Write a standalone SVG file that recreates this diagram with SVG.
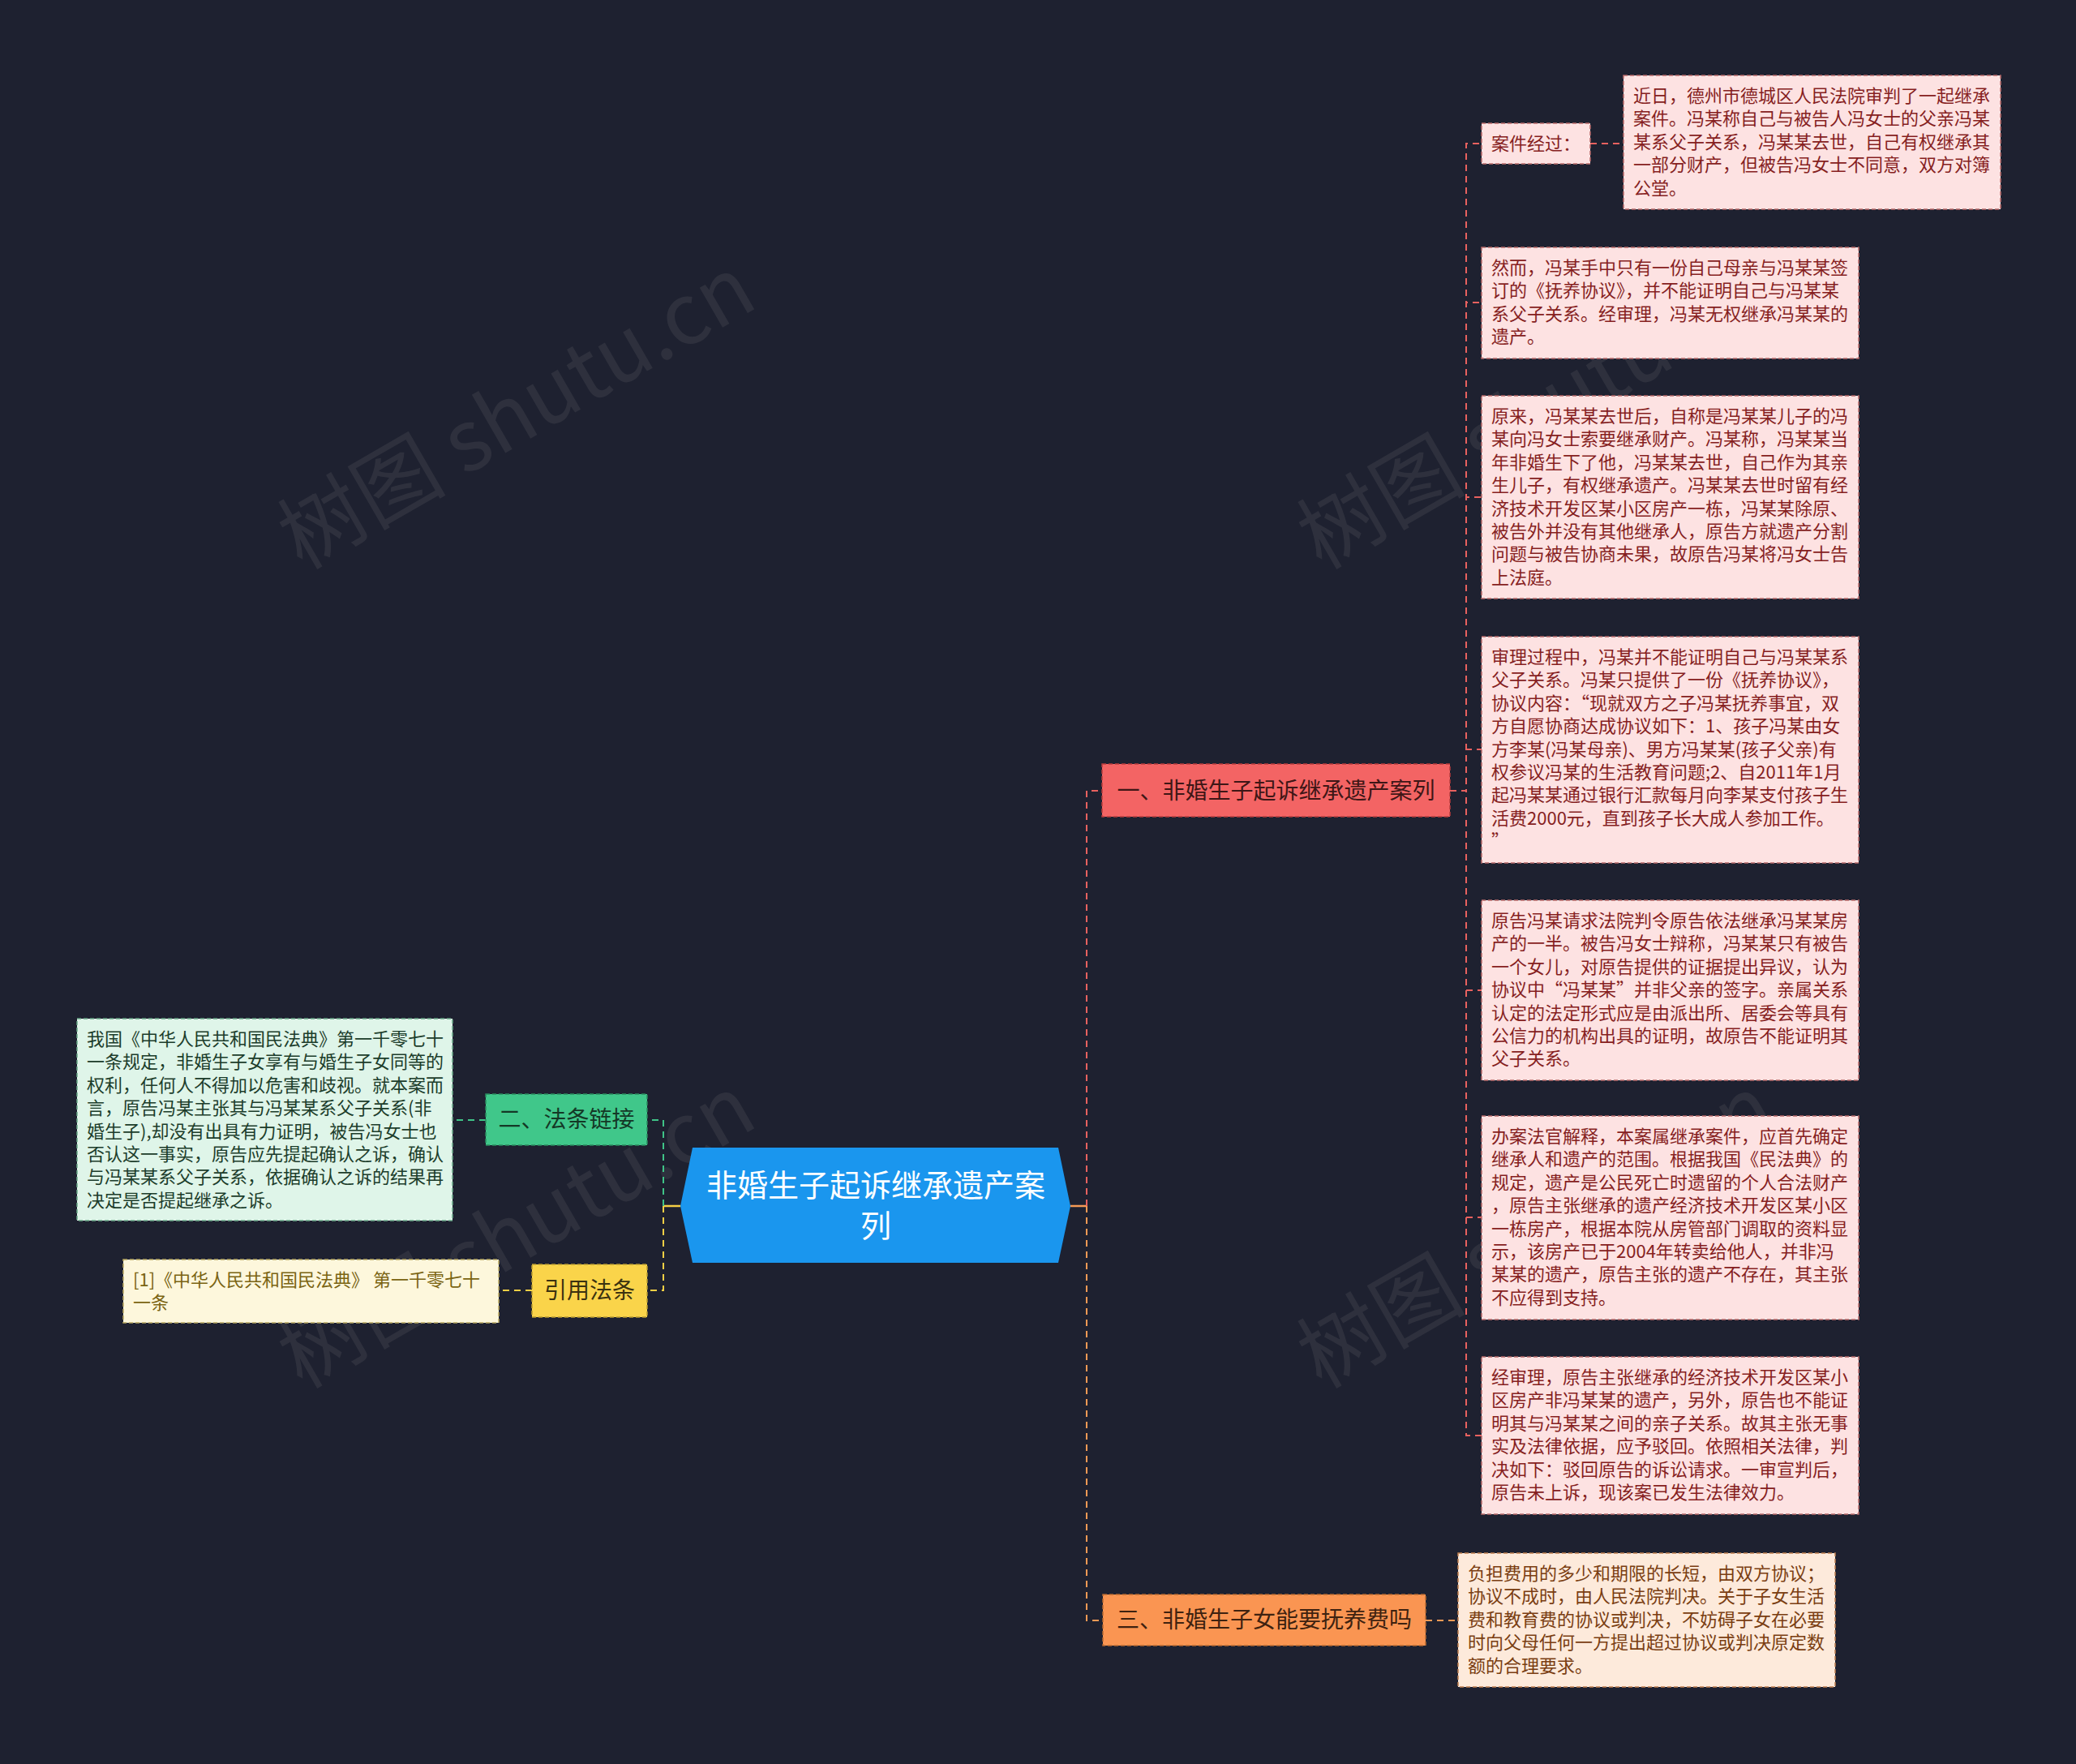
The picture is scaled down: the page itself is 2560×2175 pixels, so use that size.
<svg xmlns="http://www.w3.org/2000/svg" width="2560" height="2175" viewBox="0 0 2560 2175">
<style>
text{font-family:"Noto Sans CJK SC","Noto Sans",sans-serif}
.wm{font-size:104px;fill:#8a8a8a;opacity:0.15}
.leaf{font-size:22px}
.lp rect{fill:#fde2e2;stroke:#b86a6a;stroke-width:1.5;stroke-dasharray:5 3}
.lp text{fill:#861f1f}
.lo rect{fill:#fdeadb;stroke:#c08050;stroke-width:1.5;stroke-dasharray:5 3}
.lo text{fill:#7a3e12}
.lg rect{fill:#dff5e9;stroke:#6aa888;stroke-width:1.5;stroke-dasharray:5 3}
.lg text{fill:#1c3d2b}
.ly rect{fill:#fdf7dc;stroke:#b8a860;stroke-width:1.5;stroke-dasharray:5 3}
.ly text{fill:#7a6412}
.br{font-size:28px;text-anchor:middle}
.c{fill:none;stroke-width:2;stroke-dasharray:8 6}
.cr{stroke:#e8615f}.co{stroke:#f59a55}.cg{stroke:#3fc487}.cy{stroke:#f5cf45}
</style>
<rect width="2560" height="2175" fill="#1e2130"/>
<g id="watermarks">
<text class="wm" transform="translate(655,540) rotate(-30)" text-anchor="middle">树图 shutu.cn</text>
<text class="wm" transform="translate(1912,540) rotate(-30)" text-anchor="middle">树图 shutu.cn</text>
<text class="wm" transform="translate(655,1550) rotate(-30)" text-anchor="middle">树图 shutu.cn</text>
<text class="wm" transform="translate(1912,1550) rotate(-30)" text-anchor="middle">树图 shutu.cn</text>
</g>
<g id="connectors">
<path d="M1320,1487 H1340" fill="none" stroke="#f59a55" stroke-width="2.5"/>
<path d="M839,1487 H818" fill="none" stroke="#f5cf45" stroke-width="2.5"/>
<path class="c cr" d="M1340,1487 V975 H1359"/>
<path class="c co" d="M1340,1487 V1998 H1360"/>
<path class="c cg" d="M818,1487 V1381 H798"/>
<path class="c cy" d="M818,1487 V1591 H798"/>
<path class="c cr" d="M1788,975 H1808 V177 H1827"/>
<path class="c cr" d="M1788,975 H1808 V373 H1827"/>
<path class="c cr" d="M1788,975 H1808 V613 H1827"/>
<path class="c cr" d="M1788,975 H1808 V924 H1827"/>
<path class="c cr" d="M1788,975 H1808 V1221 H1827"/>
<path class="c cr" d="M1788,975 H1808 V1501 H1827"/>
<path class="c cr" d="M1788,975 H1808 V1770 H1827"/>
<path class="c cr" d="M1961,177 H2002"/>
<path class="c co" d="M1758,1998 H1798"/>
<path class="c cg" d="M599,1381 H558"/>
<path class="c cy" d="M656,1591 H615"/>
</g>
<g id="center">
<polygon points="854,1415 1305,1415 1320,1487 1305,1557 854,1557 839,1487" fill="#1a96ee"/>
<text x="1080" y="1475" font-size="38" fill="#ffffff" text-anchor="middle">非婚生子起诉继承遗产案</text>
<text x="1080" y="1525" font-size="38" fill="#ffffff" text-anchor="middle">列</text>
</g>
<g id="branch1">
<rect x="1359" y="942" width="429" height="65" fill="#f36464" stroke="#b83c3c" stroke-width="1.5" stroke-dasharray="5 3"/>
<text class="br" x="1573.5" y="985" fill="#3e1616">一、非婚生子起诉继承遗产案列</text>
</g>
<g id="branch3">
<rect x="1360" y="1966" width="398" height="63" fill="#fa9552" stroke="#b86a30" stroke-width="1.5" stroke-dasharray="5 3"/>
<text class="br" x="1559" y="2007" fill="#3e2210">三、非婚生子女能要抚养费吗</text>
</g>
<g id="branch2">
<rect x="599" y="1349" width="199" height="63" fill="#40c78a" stroke="#2a8a5e" stroke-width="1.5" stroke-dasharray="5 3"/>
<text class="br" x="698.5" y="1390" font-size="27.5" fill="#143826">二、法条链接</text>
</g>
<g id="branch4">
<rect x="656" y="1559" width="142" height="65" fill="#fad44a" stroke="#b89a30" stroke-width="1.5" stroke-dasharray="5 3"/>
<text class="br" x="727" y="1601" font-size="27.5" fill="#3b3210">引用法条</text>
</g>
<g id="leaf1" class="lp">
<rect x="1827" y="152" width="134" height="50"/>
<text class="leaf" x="1839" y="185">案件经过：</text>
</g>
<g id="leaf2" class="lp">
<rect x="2002" y="93" width="465" height="165"/>
<text class="leaf" x="2014" y="126"><tspan x="2014">近日，德州市德城区人民法院审判了一起继承</tspan><tspan x="2014" dy="28.4">案件。冯某称自己与被告人冯女士的父亲冯某</tspan><tspan x="2014" dy="28.4">某系父子关系，冯某某去世，自己有权继承其</tspan><tspan x="2014" dy="28.4">一部分财产，但被告冯女士不同意，双方对簿</tspan><tspan x="2014" dy="28.4">公堂。</tspan></text>
</g>
<g id="leaf3" class="lp">
<rect x="1827" y="305" width="465" height="137"/>
<text class="leaf" x="1839" y="338"><tspan x="1839">然而，冯某手中只有一份自己母亲与冯某某签</tspan><tspan x="1839" dy="28.4">订的《抚养协议》，并不能证明自己与冯某某</tspan><tspan x="1839" dy="28.4">系父子关系。经审理，冯某无权继承冯某某的</tspan><tspan x="1839" dy="28.4">遗产。</tspan></text>
</g>
<g id="leaf4" class="lp">
<rect x="1827" y="488" width="465" height="250"/>
<text class="leaf" x="1839" y="521"><tspan x="1839">原来，冯某某去世后，自称是冯某某儿子的冯</tspan><tspan x="1839" dy="28.4">某向冯女士索要继承财产。冯某称，冯某某当</tspan><tspan x="1839" dy="28.4">年非婚生下了他，冯某某去世，自己作为其亲</tspan><tspan x="1839" dy="28.4">生儿子，有权继承遗产。冯某某去世时留有经</tspan><tspan x="1839" dy="28.4">济技术开发区某小区房产一栋，冯某某除原、</tspan><tspan x="1839" dy="28.4">被告外并没有其他继承人，原告方就遗产分割</tspan><tspan x="1839" dy="28.4">问题与被告协商未果，故原告冯某将冯女士告</tspan><tspan x="1839" dy="28.4">上法庭。</tspan></text>
</g>
<g id="leaf5" class="lp">
<rect x="1827" y="785" width="465" height="279"/>
<text class="leaf" x="1839" y="818"><tspan x="1839">审理过程中，冯某并不能证明自己与冯某某系</tspan><tspan x="1839" dy="28.4">父子关系。冯某只提供了一份《抚养协议》，</tspan><tspan x="1839" dy="28.4">协议内容：“现就双方之子冯某抚养事宜，双</tspan><tspan x="1839" dy="28.4">方自愿协商达成协议如下：1、孩子冯某由女</tspan><tspan x="1839" dy="28.4">方李某(冯某母亲)、男方冯某某(孩子父亲)有</tspan><tspan x="1839" dy="28.4">权参议冯某的生活教育问题;2、自2011年1月</tspan><tspan x="1839" dy="28.4">起冯某某通过银行汇款每月向李某支付孩子生</tspan><tspan x="1839" dy="28.4">活费2000元，直到孩子长大成人参加工作。</tspan><tspan x="1839" dy="28.4">”</tspan></text>
</g>
<g id="leaf6" class="lp">
<rect x="1827" y="1110" width="465" height="222"/>
<text class="leaf" x="1839" y="1143"><tspan x="1839">原告冯某请求法院判令原告依法继承冯某某房</tspan><tspan x="1839" dy="28.4">产的一半。被告冯女士辩称，冯某某只有被告</tspan><tspan x="1839" dy="28.4">一个女儿，对原告提供的证据提出异议，认为</tspan><tspan x="1839" dy="28.4">协议中“冯某某”并非父亲的签字。亲属关系</tspan><tspan x="1839" dy="28.4">认定的法定形式应是由派出所、居委会等具有</tspan><tspan x="1839" dy="28.4">公信力的机构出具的证明，故原告不能证明其</tspan><tspan x="1839" dy="28.4">父子关系。</tspan></text>
</g>
<g id="leaf7" class="lp">
<rect x="1827" y="1376" width="465" height="251"/>
<text class="leaf" x="1839" y="1409"><tspan x="1839">办案法官解释，本案属继承案件，应首先确定</tspan><tspan x="1839" dy="28.4">继承人和遗产的范围。根据我国《民法典》的</tspan><tspan x="1839" dy="28.4">规定，遗产是公民死亡时遗留的个人合法财产</tspan><tspan x="1839" dy="28.4">，原告主张继承的遗产经济技术开发区某小区</tspan><tspan x="1839" dy="28.4">一栋房产，根据本院从房管部门调取的资料显</tspan><tspan x="1839" dy="28.4">示，该房产已于2004年转卖给他人，并非冯</tspan><tspan x="1839" dy="28.4">某某的遗产，原告主张的遗产不存在，其主张</tspan><tspan x="1839" dy="28.4">不应得到支持。</tspan></text>
</g>
<g id="leaf8" class="lp">
<rect x="1827" y="1673" width="465" height="194"/>
<text class="leaf" x="1839" y="1706"><tspan x="1839">经审理，原告主张继承的经济技术开发区某小</tspan><tspan x="1839" dy="28.4">区房产非冯某某的遗产，另外，原告也不能证</tspan><tspan x="1839" dy="28.4">明其与冯某某之间的亲子关系。故其主张无事</tspan><tspan x="1839" dy="28.4">实及法律依据，应予驳回。依照相关法律，判</tspan><tspan x="1839" dy="28.4">决如下：驳回原告的诉讼请求。一审宣判后，</tspan><tspan x="1839" dy="28.4">原告未上诉，现该案已发生法律效力。</tspan></text>
</g>
<g id="leaf9" class="lo">
<rect x="1798" y="1915" width="465" height="165"/>
<text class="leaf" x="1810" y="1948"><tspan x="1810">负担费用的多少和期限的长短，由双方协议；</tspan><tspan x="1810" dy="28.4">协议不成时，由人民法院判决。关于子女生活</tspan><tspan x="1810" dy="28.4">费和教育费的协议或判决，不妨碍子女在必要</tspan><tspan x="1810" dy="28.4">时向父母任何一方提出超过协议或判决原定数</tspan><tspan x="1810" dy="28.4">额的合理要求。</tspan></text>
</g>
<g id="leaf10" class="lg">
<rect x="95" y="1256" width="463" height="249"/>
<text class="leaf" x="107" y="1289"><tspan x="107">我国《中华人民共和国民法典》第一千零七十</tspan><tspan x="107" dy="28.4">一条规定，非婚生子女享有与婚生子女同等的</tspan><tspan x="107" dy="28.4">权利，任何人不得加以危害和歧视。就本案而</tspan><tspan x="107" dy="28.4">言，原告冯某主张其与冯某某系父子关系(非</tspan><tspan x="107" dy="28.4">婚生子),却没有出具有力证明，被告冯女士也</tspan><tspan x="107" dy="28.4">否认这一事实，原告应先提起确认之诉，确认</tspan><tspan x="107" dy="28.4">与冯某某系父子关系，依据确认之诉的结果再</tspan><tspan x="107" dy="28.4">决定是否提起继承之诉。</tspan></text>
</g>
<g id="leaf11" class="ly">
<rect x="152" y="1553" width="463" height="78"/>
<text class="leaf" x="164" y="1586"><tspan x="164">[1]《中华人民共和国民法典》 第一千零七十</tspan><tspan x="164" dy="28.4">一条</tspan></text>
</g>
</svg>
